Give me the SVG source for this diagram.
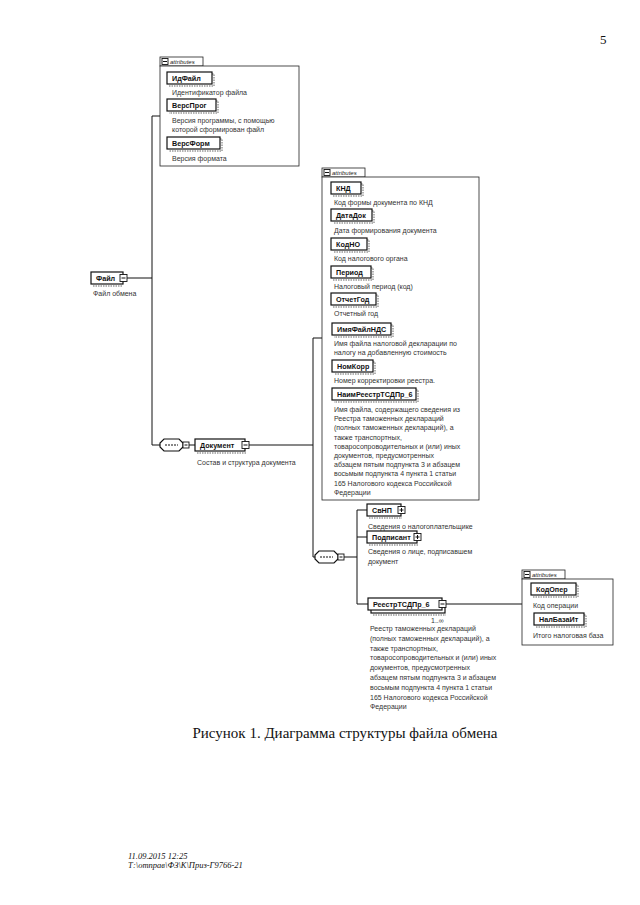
<svg xmlns="http://www.w3.org/2000/svg" width="640" height="905" viewBox="0 0 640 905">
<style>
.ln{stroke:#111;stroke-width:1;fill:none}
.box{fill:#fff;stroke:#111;stroke-width:1.2}
.abox{fill:#fff;stroke:#222;stroke-width:0.8}
.shd{fill:none;stroke:#666;stroke-width:1;stroke-dasharray:1.5 1}
.lbl{font-family:"Liberation Sans",Arial,sans-serif;font-weight:bold;font-size:7.2px;fill:#111}
.dsc{font-family:"Liberation Sans",Arial,sans-serif;font-size:7px;fill:#333}
.tabt{font-family:"Liberation Sans",Arial,sans-serif;font-style:italic;font-size:6px;fill:#222}
.ico{fill:#fff;stroke:#111;stroke-width:0.9}
.serif{font-family:"Liberation Serif","Times New Roman",serif;fill:#111}
</style>
<defs>
<g id="minus"><rect class="ico" x="0" y="0" width="7" height="7"/><path class="ln" d="M1.5,3.5H5.5"/></g>
<g id="plus"><rect class="ico" x="0" y="0" width="7" height="7"/><path class="ln" d="M1.5,3.5H5.5M3.5,1.5V5.5"/></g>
<g id="tab"><rect class="abox" x="0" y="0" width="43" height="9"/><rect class="ico" x="2" y="1.5" width="6" height="6"/><path class="ln" d="M3,4.5H7"/><text class="tabt" x="10" y="7">attributes</text></g>
<g id="seq"><path class="box" d="M4,0H19L23,4V8L19,12H4L0,8V4Z"/><path class="ln" d="M5,6H18" stroke-dasharray="2 1"/><rect class="ico" x="23" y="3" width="6" height="6"/><path class="ln" d="M24.5,6H27.5"/></g>
</defs>

<text class="serif" x="600" y="44" font-size="13">5</text>

<g id="connectors">
<path class="ln" d="M152,116V445M152,116H160M127,278H152M152,445H160"/>
<path class="ln" d="M189,445H195M249,445H313M313,338V557H315M313,338H322"/>
<path class="ln" d="M344,557H357M357,510V604M357,510H367M357,537H367M357,604H368M446,604H522"/>
</g>

<g id="attributes1">
<use href="#tab" x="160" y="57"/>
<rect class="abox" x="160" y="66" width="139" height="100"/>
<g id="attr-IdFile"><path class="shd" d="M212,74H214V86H169"/><rect class="box" x="167" y="72" width="45" height="12"/><text class="lbl" x="172" y="80.8">ИдФайл</text></g>
<text class="dsc" x="172" y="95">Идентификатор файла</text>
<g id="attr-VersProg"><path class="shd" d="M216,101H218V113H169"/><rect class="box" x="167" y="99" width="49" height="12"/><text class="lbl" x="172" y="107.8">ВерсПрог</text></g>
<text class="dsc" x="172" y="123">Версия программы, с помощью</text>
<text class="dsc" x="172" y="132">которой сформирован файл</text>
<g id="attr-VersForm"><path class="shd" d="M220,139H222V151H169"/><rect class="box" x="167" y="137" width="53" height="12"/><text class="lbl" x="172" y="145.8">ВерсФорм</text></g>
<text class="dsc" x="172" y="161">Версия формата</text>
</g>

<g id="node-File">
<path class="shd" d="M93,286H122"/>
<rect class="box" x="91" y="272" width="32" height="12"/><text class="lbl" x="96" y="280.8">Файл</text>
<use href="#minus" x="120" y="274.5"/>
<text class="dsc" x="93" y="296">Файл обмена</text>
</g>

<g id="seq1"><use href="#seq" x="160" y="439"/></g>

<g id="node-Document">
<path class="shd" d="M197,453H246"/>
<rect class="box" x="195" y="439" width="50" height="12"/><text class="lbl" x="200" y="447.8">Документ</text>
<use href="#minus" x="242" y="441.5"/>
<text class="dsc" x="197" y="465">Состав и структура документа</text>
</g>

<g id="attributes2">
<use href="#tab" x="322" y="168"/>
<rect class="abox" x="322" y="177" width="157" height="323"/>
<g><path class="shd" d="M361,184H363V196H333"/><rect class="box" x="331" y="182" width="30" height="12"/><text class="lbl" x="336" y="190.8">КНД</text></g>
<text class="dsc" x="334" y="205">Код формы документа по КНД</text>
<g><path class="shd" d="M372,211H374V223H333"/><rect class="box" x="331" y="209" width="41" height="12"/><text class="lbl" x="336" y="217.8">ДатаДок</text></g>
<text class="dsc" x="334" y="233">Дата формирования документа</text>
<g><path class="shd" d="M367,240H369V252H333"/><rect class="box" x="331" y="238" width="36" height="12"/><text class="lbl" x="336" y="246.8">КодНО</text></g>
<text class="dsc" x="334" y="261">Код налогового органа</text>
<g><path class="shd" d="M371,268H373V280H333"/><rect class="box" x="331" y="266" width="40" height="12"/><text class="lbl" x="336" y="274.8">Период</text></g>
<text class="dsc" x="334" y="289">Налоговый период (код)</text>
<g><path class="shd" d="M376,295H378V307H333"/><rect class="box" x="331" y="293" width="45" height="12"/><text class="lbl" x="336" y="301.8">ОтчетГод</text></g>
<text class="dsc" x="334" y="316">Отчетный год</text>
<g><path class="shd" d="M391,325H393V337H334"/><rect class="box" x="332" y="323" width="59" height="12"/><text class="lbl" x="337" y="331.8">ИмяФайлНДС</text></g>
<text class="dsc" x="334" y="346">Имя файла налоговой декларации по</text>
<text class="dsc" x="334" y="355">налогу на добавленную стоимость</text>
<g><path class="shd" d="M373,362H375V374H334"/><rect class="box" x="332" y="360" width="41" height="12"/><text class="lbl" x="337" y="368.8">НомКорр</text></g>
<text class="dsc" x="334" y="383">Номер корректировки реестра.</text>
<g><path class="shd" d="M416,390H418V402H334"/><rect class="box" x="332" y="388" width="84" height="12"/><text class="lbl" x="337" y="396.8">НаимРеестрТСДПр_6</text></g>
<text class="dsc" x="334" y="412">Имя файла, содержащего сведения из</text>
<text class="dsc" x="334" y="421.2">Реестра таможенных деклараций</text>
<text class="dsc" x="334" y="430.4">(полных таможенных деклараций), а</text>
<text class="dsc" x="334" y="439.6">также транспортных,</text>
<text class="dsc" x="334" y="448.8">товаросопроводительных и (или) иных</text>
<text class="dsc" x="334" y="458">документов, предусмотренных</text>
<text class="dsc" x="334" y="467.2">абзацем пятым подпункта 3 и абзацем</text>
<text class="dsc" x="334" y="476.4">восьмым подпункта 4 пункта 1 статьи</text>
<text class="dsc" x="334" y="485.6">165 Налогового кодекса Российской</text>
<text class="dsc" x="334" y="494.8">Федерации</text>
</g>

<g id="seq2"><use href="#seq" x="315" y="551"/></g>

<g id="node-SvNP">
<path class="shd" d="M369,518H402"/>
<rect class="box" x="367" y="504" width="34" height="12"/><text class="lbl" x="372" y="512.8">СвНП</text>
<use href="#plus" x="398" y="506.5"/>
<text class="dsc" x="368" y="529">Сведения о налогоплательщике</text>
</g>

<g id="node-Podpisant">
<path class="shd" d="M369,545H418"/>
<rect class="box" x="367" y="531" width="50" height="12"/><text class="lbl" x="372" y="539.8">Подписант</text>
<use href="#plus" x="414" y="533.5"/>
<text class="dsc" x="368" y="554">Сведения о лице, подписавшем</text>
<text class="dsc" x="368" y="564">документ</text>
</g>

<g id="node-Reestr">
<rect class="box" x="371" y="601" width="74" height="12"/>
<path class="shd" d="M373,615H446"/>
<rect class="box" x="368" y="598" width="74" height="12"/><text class="lbl" x="373" y="606.8">РеестрТСДПр_6</text>
<use href="#minus" x="439" y="600.5"/>
<text class="dsc" x="431" y="623" font-size="6">1..∞</text>
<text class="dsc" x="370" y="631">Реестр таможенных деклараций</text>
<text class="dsc" x="370" y="640.8">(полных таможенных деклараций), а</text>
<text class="dsc" x="370" y="650.6">также транспортных,</text>
<text class="dsc" x="370" y="660.4">товаросопроводительных и (или) иных</text>
<text class="dsc" x="370" y="670.2">документов, предусмотренных</text>
<text class="dsc" x="370" y="680">абзацем пятым подпункта 3 и абзацем</text>
<text class="dsc" x="370" y="689.8">восьмым подпункта 4 пункта 1 статьи</text>
<text class="dsc" x="370" y="699.6">165 Налогового кодекса Российской</text>
<text class="dsc" x="370" y="709.4">Федерации</text>
</g>

<g id="attributes3">
<use href="#tab" x="522" y="570"/>
<rect class="abox" x="522" y="579" width="91" height="66"/>
<g><path class="shd" d="M576,585H578V597H533"/><rect class="box" x="531" y="583" width="45" height="12"/><text class="lbl" x="536" y="591.8">КодОпер</text></g>
<text class="dsc" x="533" y="608">Код операции</text>
<g><path class="shd" d="M584,615H586V627H536"/><rect class="box" x="534" y="613" width="50" height="12"/><text class="lbl" x="539" y="621.8">НалБазаИт</text></g>
<text class="dsc" x="533" y="638">Итого налоговая база</text>
</g>

<text class="serif" x="345" y="738" font-size="15" text-anchor="middle">Рисунок 1. Диаграмма структуры файла обмена</text>

<text class="serif" x="128" y="859" font-size="8.5" font-style="italic" fill="#444">11.09.2015 12:25</text>
<text class="serif" x="128" y="868" font-size="8.5" font-style="italic" fill="#444">Т:\отправ\ФЗ\К\Приз-Г9766-21</text>
</svg>
